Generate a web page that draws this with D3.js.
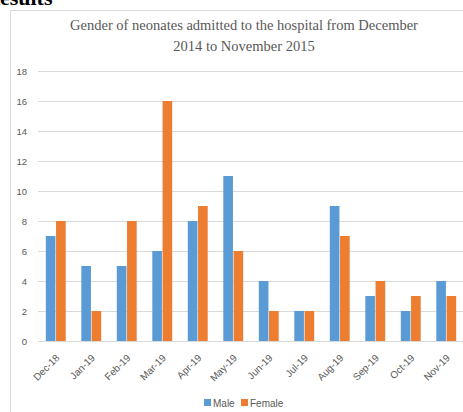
<!DOCTYPE html>
<html>
<head>
<meta charset="utf-8">
<script src="https://cdn.jsdelivr.net/npm/d3@7"></script>
<style>
  body { margin: 0; background: #fff; }
  svg { display: block; }
</style>
</head>
<body>
<svg id="chart" width="463" height="412"></svg>
<script>
const months = ["Dec-18", "Jan-19", "Feb-19", "Mar-19", "Apr-19", "May-19",
                "Jun-19", "Jul-19", "Aug-19", "Sep-19", "Oct-19", "Nov-19"];
const male = [7, 5, 5, 6, 8, 11, 4, 2, 9, 3, 2, 4];
const female = [8, 2, 8, 16, 9, 6, 2, 2, 7, 4, 3, 3];
const yTicks = [0, 2, 4, 6, 8, 10, 12, 14, 16, 18];
const seriesNames = ["Male", "Female"];
const colors = ["#5B9BD5", "#ED7D31"];

const svg = d3.select("#chart");
const plotLeft = 38, plotRight = 464, plotTop = 71, plotBottom = 341;

// heading of the page, cut at the top
svg.append("text")
    .attr("x", -16).attr("y", 5)
    .attr("font-family", "Liberation Serif")
    .attr("font-weight", "bold")
    .attr("font-size", 22)
    .attr("fill", "#000")
    .text("Results");

// chart frame
svg.append("rect")
    .attr("x", 10.5).attr("y", 10.5)
    .attr("width", 470).attr("height", 420)
    .attr("fill", "none")
    .attr("stroke", "#d9d9d9");

const title = svg.append("text")
    .attr("text-anchor", "middle")
    .attr("font-family", "Liberation Serif")
    .attr("font-size", 14.5)
    .attr("fill", "#595959");
title.append("tspan").attr("x", 244).attr("y", 30)
    .text("Gender of neonates admitted to the hospital from December");
title.append("tspan").attr("x", 244).attr("y", 51)
    .text("2014 to November 2015");

const x = d3.scaleBand().domain(months).range([plotLeft, plotRight]).paddingInner(0.44).paddingOuter(0.22);
const xs = d3.scaleBand().domain(seriesNames).range([0, x.bandwidth()]).paddingInner(0.06);
const y = d3.scaleLinear().domain([0, 18]).range([plotBottom, plotTop]);

// grid
svg.append("g")
    .selectAll("line")
    .data(yTicks)
    .join("line")
    .attr("x1", plotLeft).attr("x2", 463)
    .attr("y1", d => Math.round(y(d)) + 0.5)
    .attr("y2", d => Math.round(y(d)) + 0.5)
    .attr("stroke", "#d9d9d9");

const yAxis = svg.append("g")
    .attr("transform", `translate(${plotLeft - 8},0)`)
    .call(d3.axisLeft(y).tickValues(yTicks).tickSize(0));
yAxis.select(".domain").remove();
yAxis.selectAll("text")
    .attr("font-family", "Liberation Sans")
    .attr("font-size", 9.5)
    .attr("fill", "#595959");

// bars
const groups = svg.append("g")
    .selectAll("g")
    .data(months.map((m, i) => ({month: m, values: [male[i], female[i]]})))
    .join("g")
    .attr("transform", d => `translate(${x(d.month)},0)`);

groups.selectAll("rect")
    .data(d => d.values.map((v, j) => ({key: seriesNames[j], value: v, color: colors[j]})))
    .join("rect")
    .attr("x", d => xs(d.key))
    .attr("width", xs.bandwidth())
    .attr("y", d => y(d.value))
    .attr("height", d => y(0) - y(d.value))
    .attr("fill", d => d.color);

// x axis
const xAxis = svg.append("g")
    .attr("transform", `translate(0,${plotBottom})`)
    .call(d3.axisBottom(x).tickSize(0));
xAxis.select(".domain").remove();
xAxis.selectAll("text")
    .attr("font-family", "Liberation Sans")
    .attr("font-size", 10)
    .attr("fill", "#595959")
    .attr("text-anchor", "end")
    .attr("y", 0)
    .attr("dy", "0.35em")
    .attr("transform", "translate(2,15) rotate(-45)");

// legend
const legend = svg.append("g").attr("transform", "translate(204,399)");
const items = legend.selectAll("g")
    .data(seriesNames)
    .join("g")
    .attr("transform", (d, i) => `translate(${i * 37},0)`);
items.append("rect")
    .attr("width", 7).attr("height", 7)
    .attr("fill", (d, i) => colors[i]);
items.append("text")
    .attr("x", 9).attr("y", 7.5)
    .attr("font-family", "Liberation Sans")
    .attr("font-size", 10)
    .attr("fill", "#595959")
    .text(d => d);
</script>
</body>
</html>
